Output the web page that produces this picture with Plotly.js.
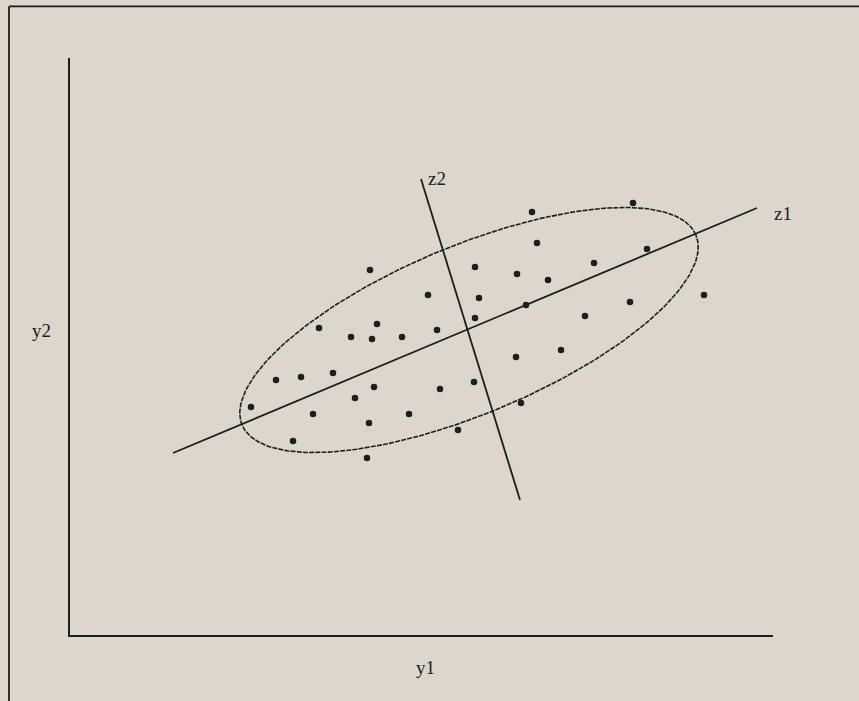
<!DOCTYPE html>
<html>
<head>
<meta charset="utf-8">
<script src="https://cdn.plot.ly/plotly-3.0.1.min.js"></script>
<style>
  html, body { margin: 0; padding: 0; background: #ddd6cd; }
  #chart { width: 859px; height: 701px; }
</style>
</head>
<body>
<div id="chart"></div>
<script>
// Observations (y1, y2)
const y1Values = [
  3.00, 3.58, 4.05, 4.09, 4.05, 2.49, 3.07, 2.81, 3.02, 3.32,
  3.67, 2.06, 2.31, 2.63, 3.04, 3.70, 4.04, 2.85, 1.81, 2.43,
  3.39, 2.99, 3.88, 2.23, 2.97, 4.62, 5.63, 4.67, 5.77, 4.47,
  4.78, 5.24, 6.34, 4.56, 5.60, 5.15, 4.46, 4.91, 4.51
];
const y2Values = [
  3.65, 3.40, 3.68, 3.37, 3.17, 3.07, 3.11, 2.98, 2.96, 2.98,
  3.05, 2.55, 2.58, 2.62, 2.48, 2.46, 2.53, 2.37, 2.28, 2.21,
  2.21, 2.12, 2.05, 1.94, 1.77, 4.23, 4.32, 3.92, 3.86, 3.61,
  3.55, 3.72, 3.40, 3.30, 3.33, 3.19, 2.78, 2.85, 2.32
];

// Principal axes z1 and z2 (segment end points)
const z1X = [1.03, 6.87];
const z1Y = [1.82, 4.27];
const z2X = [3.51, 4.50];
const z2Y = [4.56, 1.35];

// Concentration ellipse: centre, semi-axes, orientation (degrees)
const ellipseCenter = [3.99, 3.05];
const ellipseSemiAxes = [2.46, 0.84];
const ellipseAngleDeg = 22.7;

const ink = '#1a201b';

function ellipsePoints(c, ab, deg, n) {
  const t = deg * Math.PI / 180;
  const xs = [], ys = [];
  for (let i = 0; i <= n; i++) {
    const u = 2 * Math.PI * i / n;
    const ex = ab[0] * Math.cos(u), ey = ab[1] * Math.sin(u);
    xs.push(c[0] + ex * Math.cos(t) - ey * Math.sin(t));
    ys.push(c[1] + ex * Math.sin(t) + ey * Math.cos(t));
  }
  return { xs, ys };
}
const ell = ellipsePoints(ellipseCenter, ellipseSemiAxes, ellipseAngleDeg, 240);

const traces = [
  {
    x: ell.xs, y: ell.ys, mode: 'lines', hoverinfo: 'skip',
    line: { color: ink, width: 1.6, dash: '5px,1.2px' }
  },
  {
    x: z1X, y: z1Y, mode: 'lines', hoverinfo: 'skip',
    line: { color: ink, width: 1.8 }
  },
  {
    x: z2X, y: z2Y, mode: 'lines', hoverinfo: 'skip',
    line: { color: ink, width: 1.8 }
  },
  {
    x: y1Values, y: y2Values, mode: 'markers',
    marker: { color: ink, size: 6.5 }
  }
];

const labelFont = { family: 'Liberation Serif, Times New Roman, serif', size: 19, color: ink };

const layout = {
  width: 859, height: 701,
  margin: { l: 70, r: 86, t: 58, b: 66 },
  paper_bgcolor: '#ddd6cd',
  plot_bgcolor: '#ddd6cd',
  showlegend: false,
  xaxis: {
    range: [0, 7.03], showgrid: false, zeroline: false, showticklabels: false,
    ticks: '', showline: true, linecolor: ink, linewidth: 1.8, fixedrange: true
  },
  yaxis: {
    range: [0, 5.77], showgrid: false, zeroline: false, showticklabels: false,
    ticks: '', showline: true, linecolor: ink, linewidth: 1.8, fixedrange: true
  },
  shapes: [
    // outer frame (top and left edges)
    { type: 'line', xref: 'paper', yref: 'paper',
      x0: -0.0868, x1: 1.25, y0: 1.0893, y1: 1.0893,
      line: { color: ink, width: 1.8 } },
    { type: 'line', xref: 'paper', yref: 'paper',
      x0: -0.0868, x1: -0.0868, y0: 1.0893, y1: -0.2,
      line: { color: ink, width: 1.8 } }
  ],
  annotations: [
    { text: 'y2', xref: 'paper', yref: 'paper', x: -0.04, y: 0.528,
      showarrow: false, font: labelFont, xanchor: 'center', yanchor: 'middle' },
    { text: 'y1', xref: 'paper', yref: 'paper', x: 0.505, y: -0.057,
      showarrow: false, font: labelFont, xanchor: 'center', yanchor: 'middle' },
    { text: 'z1', xref: 'paper', yref: 'paper', x: 1.014, y: 0.731,
      showarrow: false, font: labelFont, xanchor: 'center', yanchor: 'middle' },
    { text: 'z2', xref: 'paper', yref: 'paper', x: 0.522, y: 0.792,
      showarrow: false, font: labelFont, xanchor: 'center', yanchor: 'middle' }
  ]
};

Plotly.newPlot('chart', traces, layout, { displayModeBar: false, staticPlot: true });
</script>
</body>
</html>
